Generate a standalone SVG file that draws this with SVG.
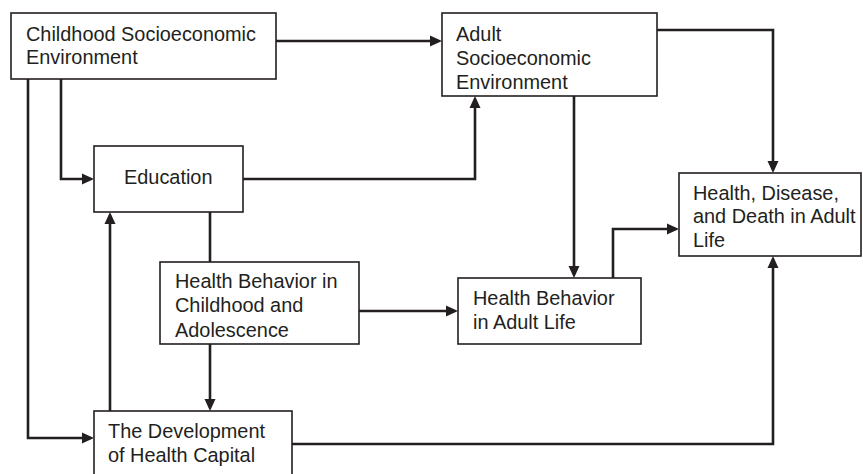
<svg xmlns="http://www.w3.org/2000/svg" width="863" height="474" viewBox="0 0 863 474">
  <style>
    .box { fill: #ffffff; stroke: #231f20; stroke-width: 1.6; }
    .lbl { font-family: "Liberation Sans", Arial, Helvetica, sans-serif; font-size: 19.9px; fill: #231f20; }
    .edge { fill: none; stroke: #231f20; stroke-width: 2.6; stroke-linejoin: miter; }
    .arrow { marker-end: url(#head); }
  </style>
  <defs>
    <marker id="head" markerUnits="userSpaceOnUse" markerWidth="12" markerHeight="12" refX="8.5" refY="6" orient="auto">
      <path d="M0,0.5 L12,6 L0,11.5 z" fill="#231f20"/>
    </marker>
  </defs>

  <rect width="863" height="474" fill="#ffffff"/>

  <!-- connectors -->
  <g id="connectors">
    <path class="edge arrow" d="M276,41 H438.5"/>
    <path class="edge arrow" d="M61,79 V179 H90.5"/>
    <path class="edge arrow" d="M28,79 V438 H90.5"/>
    <path class="edge arrow" d="M243,179 H475 V99.5"/>
    <path class="edge arrow" d="M657,30 H773 V169.5"/>
    <path class="edge arrow" d="M574,96 V274.5"/>
    <path class="edge arrow" d="M613,278 V229 H675.5"/>
    <path class="edge arrow" d="M359,311 H454.5"/>
    <path class="edge" d="M210,212 V262"/>
    <path class="edge arrow" d="M210,344 V407.5"/>
    <path class="edge arrow" d="M110,411 V215.5"/>
    <path class="edge arrow" d="M292,444 H773 V259.5"/>
  </g>

  <!-- nodes -->
  <g id="childhood-ses">
    <rect class="box" x="11" y="13" width="265" height="66"/>
    <text class="lbl" x="26" y="41">Childhood Socioeconomic</text>
    <text class="lbl" x="26" y="64">Environment</text>
  </g>

  <g id="adult-ses">
    <rect class="box" x="442" y="13" width="215" height="83"/>
    <text class="lbl" x="456" y="41">Adult</text>
    <text class="lbl" x="456" y="65">Socioeconomic</text>
    <text class="lbl" x="456" y="89">Environment</text>
  </g>

  <g id="education">
    <rect class="box" x="94" y="146" width="149" height="66"/>
    <text class="lbl" x="124" y="184">Education</text>
  </g>

  <g id="adult-health">
    <rect class="box" x="679" y="173" width="182" height="83"/>
    <text class="lbl" x="693" y="200">Health, Disease,</text>
    <text class="lbl" x="693" y="223">and Death in Adult</text>
    <text class="lbl" x="693" y="247">Life</text>
  </g>

  <g id="child-behavior">
    <rect class="box" x="160" y="262" width="199" height="82"/>
    <text class="lbl" x="175" y="288">Health Behavior in</text>
    <text class="lbl" x="175" y="312">Childhood and</text>
    <text class="lbl" x="175" y="337">Adolescence</text>
  </g>

  <g id="adult-behavior">
    <rect class="box" x="458" y="278" width="183" height="66"/>
    <text class="lbl" x="473" y="305">Health Behavior</text>
    <text class="lbl" x="473" y="329">in Adult Life</text>
  </g>

  <g id="health-capital">
    <rect class="box" x="94" y="411" width="198" height="72"/>
    <text class="lbl" x="108" y="438">The Development</text>
    <text class="lbl" x="108" y="462">of Health Capital</text>
  </g>
</svg>
